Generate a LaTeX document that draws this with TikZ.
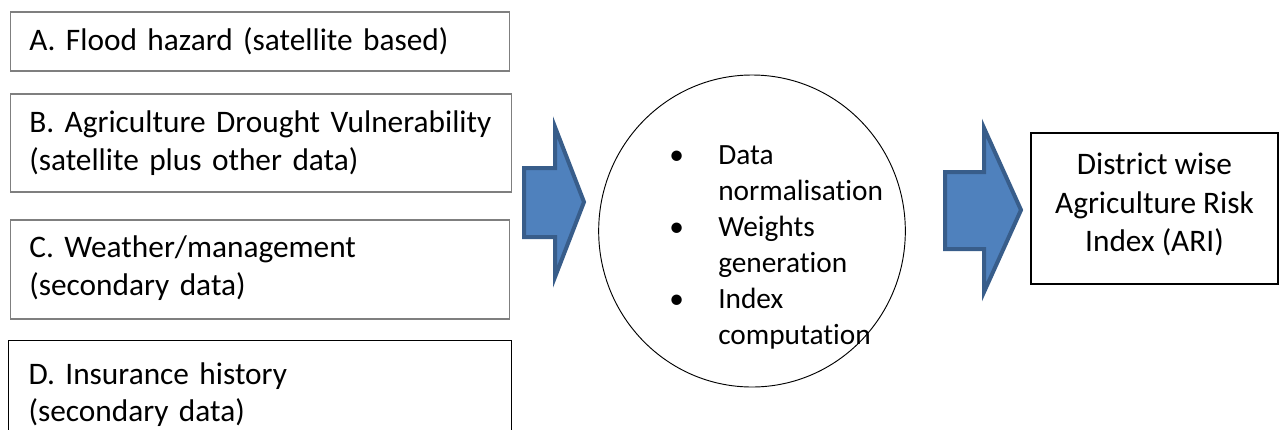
\documentclass[tikz,border=0pt]{standalone}
\usepackage{fontspec}
\setmainfont{Carlito}[Ligatures=NoCommon]
\usepackage{tikz}
\usetikzlibrary{positioning,calc,shapes.geometric}
\definecolor{arrowFill}{RGB}{79,129,189}
\definecolor{arrowEdge}{RGB}{56,93,138}
\definecolor{boxGray}{RGB}{127,127,127}

\begin{document}
\begin{tikzpicture}[x=0.75pt, y=-0.75pt,
		txt/.style={font=\fontsize{23.5}{28}\selectfont},
		srcbox/.style={txt, draw=boxGray, line width=1pt, align=left, inner xsep=14pt, anchor=west},
		blockarrow/.style={draw=arrowEdge, fill=arrowFill, line width=3pt, line join=miter}]
				\clip (0,0) rectangle (1280,429);
				\node[srcbox, minimum width=374.25pt, minimum height=44.25pt, text width=346.25pt] (srcA) at (10,41.5) {A. Flood hazard (satellite based)};
				\node[srcbox, minimum width=375.75pt, minimum height=73.5pt, text width=347.75pt] (srcB) at (10,143) {B. Agriculture Drought Vulnerability\\(satellite plus other data)};
				\node[srcbox, minimum width=374.25pt, minimum height=74.25pt, text width=346.25pt] (srcC) at (10,269.5) {C. Weather/management\\(secondary data)\vspace{2pt}};
				\node[srcbox, draw=black, line width=0.8pt, minimum width=377.25pt, minimum height=83pt, text width=347.25pt, inner xsep=15pt] (srcD) at (8,396) {D. Insurance history\\(secondary data)\vspace{2pt}};
				\node[ellipse, draw, line width=0.7pt, minimum width=230pt, minimum height=234pt, inner sep=0pt] (proc) at (752,231) {};
				\node[font=\fontsize{22}{27}\selectfont, align=left, inner sep=0pt, anchor=north west] (steps) at (669,145)
					{\makebox[36.75pt][l]{•}Data\\\hspace*{36.75pt}normalisation\\
					 \makebox[36.75pt][l]{•}Weights\\\hspace*{36.75pt}generation\\
					 \makebox[36.75pt][l]{•}Index\\\hspace*{36.75pt}computation};
				\node[txt, font=\fontsize{23.5}{29}\selectfont, draw, line width=0.9pt, align=center, minimum width=185.25pt, minimum height=113.25pt] (ari) at (1154.5,208.5)
					{District wise\\Agriculture Risk\\Index (ARI)\vspace{6pt}};
				\draw[blockarrow] (524,168) -- (555,168) -- (555,127) -- (584,202) -- (555,277) -- (555,237) -- (524,237) -- cycle;
				\draw[blockarrow] (945,172) -- (984,172) -- (984,128) -- (1021,210) -- (984,292) -- (984,249) -- (945,249) -- cycle;
			\end{tikzpicture}
\end{document}
